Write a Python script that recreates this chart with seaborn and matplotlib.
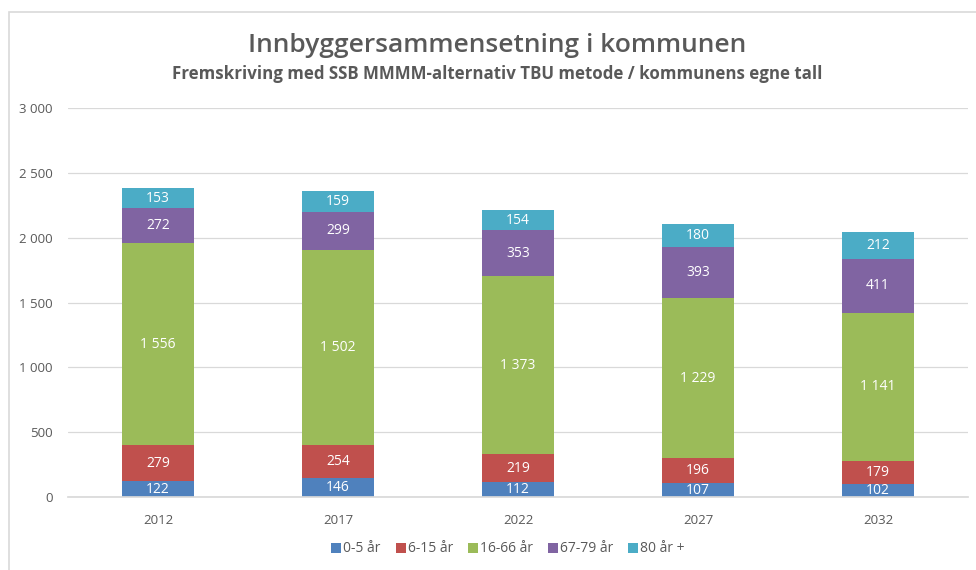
import numpy as np
import pandas as pd
import matplotlib
matplotlib.use("Agg")
import matplotlib.pyplot as plt
from matplotlib.patches import Rectangle
from matplotlib.lines import Line2D
import seaborn as sns

# data
years = ["2012", "2017", "2022", "2027", "2032"]
groups = ["0-5 år", "6-15 år", "16-66 år", "67-79 år", "80 år +"]
age_0_5 = [122, 146, 112, 107, 102]
age_6_15 = [279, 254, 219, 196, 179]
age_16_66 = [1556, 1502, 1373, 1229, 1141]
age_67_79 = [272, 299, 353, 393, 411]
age_80 = [153, 159, 154, 180, 212]
colors = ["#4F81BD", "#C0504D", "#9BBB59", "#8064A2", "#4BACC6"]

series = [age_0_5, age_6_15, age_16_66, age_67_79, age_80]
vals = np.array(series, dtype=float)
tops = np.cumsum(vals, axis=0)

sns.set_theme(style="white")
plt.rcParams["font.family"] = ["Open Sans", "DejaVu Sans"]
gray = "#595959"

fig = plt.figure(figsize=(9.76, 5.70), dpi=100)
ax = fig.add_axes([68 / 976, 1 - 497 / 570, 900 / 976, (497 - 108) / 570])

# draw cumulative totals from top layer down so each segment shows its share
for i in range(len(groups) - 1, -1, -1):
    df = pd.DataFrame({"year": years, "top": tops[i]})
    sns.barplot(data=df, x="year", y="top", color=colors[i], width=0.4,
                saturation=1, linewidth=0, ax=ax, zorder=2)

def fmt(v):
    return f"{int(v):,}".replace(",", " ")

for i in range(len(groups)):
    for j in range(len(years)):
        mid = tops[i][j] - vals[i][j] / 2
        ax.text(j, mid, fmt(vals[i][j]), ha="center", va="center",
                color="white", fontsize=10, zorder=3)

ax.set_ylim(0, 3000)
ax.set_xlim(-0.5, len(years) - 0.5)
ax.set_yticks(range(0, 3001, 500))
ax.set_yticklabels([fmt(v) for v in range(0, 3001, 500)])
ax.yaxis.grid(True, color="#D9D9D9", linewidth=0.9, zorder=0)
ax.set_axisbelow(True)
for s in ["top", "right", "left"]:
    ax.spines[s].set_visible(False)
ax.spines["bottom"].set_color("#D9D9D9")
ax.tick_params(axis="both", length=0, colors=gray, labelsize=9.5)
ax.tick_params(axis="y", pad=11)
ax.tick_params(axis="x", pad=12)
ax.set_xlabel("")
ax.set_ylabel("")

fig.text(497 / 976, 1 - 45 / 570, "Innbyggersammensetning i kommunen",
         ha="center", va="center", fontsize=19, fontweight="semibold", color=gray)
fig.text(497 / 976, 1 - 74 / 570,
         "Fremskriving med SSB MMMM-alternativ TBU metode / kommunens egne tall",
         ha="center", va="center", fontsize=12.2, fontweight="bold", color=gray)

handles = [Line2D([0], [0], marker="s", linestyle="", markersize=6.5,
                  markerfacecolor=c, markeredgewidth=0) for c in colors]
leg = fig.legend(handles, groups, loc="center", bbox_to_anchor=(508 / 976, 1 - 549 / 570),
                 ncol=5, frameon=False, fontsize=10, handlelength=0.7,
                 handletextpad=0.15, columnspacing=1.1)
for t in leg.get_texts():
    t.set_color(gray)

fig.patches.append(Rectangle((9 / 976, -0.02), 1.0, 1 - 12 / 570 + 0.02,
                             transform=fig.transFigure, fill=False,
                             edgecolor="#D9D9D9", linewidth=1.2))

fig.savefig("out.png", dpi=100)
